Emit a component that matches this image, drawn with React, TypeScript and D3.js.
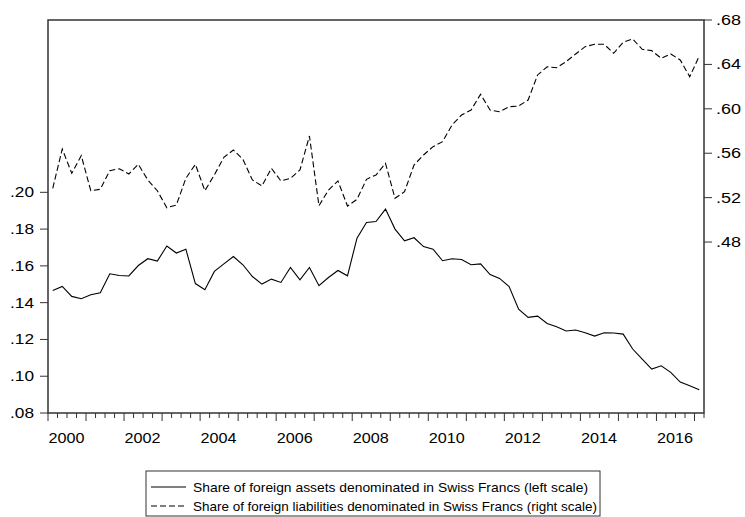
import React, { useEffect, useRef } from 'react'
import * as d3 from 'd3'

// quarterly observations, 2000Q1 .. 2017Q1
const assetsShare = [
  .1466, .1488, .1434, .1421, .1443, .1454, .1557, .1548, .1545, .1602,
  .1639, .1626, .1708, .1670, .1691, .1504, .1470, .1570, .1611, .1651,
  .1606, .1542, .1501, .1528, .1510, .1591, .1524, .1591, .1492, .1537,
  .1575, .1546, .1751, .1836, .1841, .1909, .1800, .1736, .1753, .1705,
  .1691, .1628, .1639, .1635, .1606, .1611, .1553, .1532, .1488, .1365,
  .1320, .1327, .1287, .1269, .1246, .1251, .1236, .1218, .1236, .1235,
  .1229, .1148, .1093, .1039, .1057, .1021, .0968, .0948, .0927
]
const liabilitiesShare = [
  .5284, .5638, .5419, .5578, .5262, .5275, .5443, .5460, .5413, .5500,
  .5359, .5262, .5109, .5133, .5374, .5500, .5262, .5406, .5563, .5629,
  .5545, .5359, .5305, .5464, .5350, .5374, .5449, .5755, .5127, .5268,
  .5350, .5124, .5185, .5365, .5404, .5509, .5194, .5253, .5494, .5584,
  .5659, .5704, .5854, .5944, .5989, .6131, .5989, .5974, .6019, .6025,
  .6079, .6305, .6379, .6370, .6425, .6494, .6560, .6581, .6581, .6500,
  .6599, .6629, .6536, .6524, .6455, .6494, .6440, .6289, .6476
]
const yearLabels = ['2000', '2002', '2004', '2006', '2008', '2010', '2012', '2014', '2016']
const leftTicks = [.08, .10, .12, .14, .16, .18, .20]
const rightTicks = [.48, .52, .56, .60, .64, .68]
const legendLabels = [
  'Share of foreign assets denominated in Swiss Francs (left scale)',
  'Share of foreign liabilities denominated in Swiss Francs (right scale)'
]

export default function App() {
  const ref = useRef<SVGSVGElement>(null)

  useEffect(() => {
    const width = 745, height = 517
    const left = 48, right = 704, top = 20, bottom = 413
    const n = assetsShare.length
    const font = "'Liberation Sans', Arial, sans-serif"
    const fmt = (v: number) => d3.format('.2f')(v).replace(/^0/, '')

    const svg = d3.select(ref.current)
    svg.selectAll('*').remove()
    svg.attr('width', width).attr('height', height)

    const x = d3.scaleLinear().domain([-0.5, n - 0.5]).range([left, right])
    const yL = d3.scaleLinear().domain([.08, .2937]).range([bottom, top])
    const yR = d3.scaleLinear().domain([.326, .68]).range([bottom, top])

    // bottom ticks, one per quarter, longer at year start
    const tk = svg.append('g').attr('stroke', '#333').attr('stroke-width', 1)
    for (let i = 0; i <= n; i++) {
      const xx = x(i - 0.5)
      tk.append('line')
        .attr('x1', xx).attr('x2', xx)
        .attr('y1', bottom).attr('y2', bottom + (i % 4 === 0 ? 8 : 5))
    }
    leftTicks.forEach(v => {
      tk.append('line').attr('x1', left - 8).attr('x2', left).attr('y1', yL(v)).attr('y2', yL(v))
    })
    rightTicks.forEach(v => {
      tk.append('line').attr('x1', right).attr('x2', right + 8).attr('y1', yR(v)).attr('y2', yR(v))
    })

    // EViews text comes out a bit wide, so stretch glyphs to the widths seen
    const txt = svg.append('g').attr('font-family', font).attr('font-size', 14).attr('fill', '#000')
      .attr('lengthAdjust', 'spacingAndGlyphs')
    leftTicks.forEach(v => {
      txt.append('text').attr('x', 34).attr('y', yL(v)).attr('dy', '0.35em')
        .attr('text-anchor', 'end').attr('textLength', 24)
        .attr('lengthAdjust', 'spacingAndGlyphs').text(fmt(v))
    })
    rightTicks.forEach(v => {
      txt.append('text').attr('x', 716).attr('y', yR(v)).attr('dy', '0.35em')
        .attr('textLength', 25).attr('lengthAdjust', 'spacingAndGlyphs').text(fmt(v))
    })
    yearLabels.forEach((lab, k) => {
      txt.append('text').attr('x', x(k * 8 - 0.5) + 18.5).attr('y', 443)
        .attr('text-anchor', 'middle').attr('textLength', 36)
        .attr('lengthAdjust', 'spacingAndGlyphs').text(lab)
    })

    const line = (sc: d3.ScaleLinear<number, number>) =>
      d3.line<number>().x((_, i) => x(i)).y(d => sc(d))

    svg.append('path').datum(liabilitiesShare)
      .attr('fill', 'none').attr('stroke', '#000').attr('stroke-width', 1.1)
      .attr('stroke-dasharray', '6,3')
      .attr('d', line(yR))
    svg.append('path').datum(assetsShare)
      .attr('fill', 'none').attr('stroke', '#000').attr('stroke-width', 1.1)
      .attr('d', line(yL))

    // frame
    svg.append('rect')
      .attr('x', left).attr('y', top).attr('width', right - left).attr('height', bottom - top)
      .attr('fill', 'none').attr('stroke', '#333').attr('stroke-width', 1.5)

    // legend
    const lg = svg.append('g')
    lg.append('rect').attr('x', 146).attr('y', 471).attr('width', 454).attr('height', 45)
      .attr('fill', 'none').attr('stroke', '#333').attr('stroke-width', 1)
    const legendWidths = [395, 404]
    legendLabels.forEach((lab, k) => {
      const yy = 487 + k * 19
      lg.append('line').attr('x1', 151).attr('x2', 186).attr('y1', yy).attr('y2', yy)
        .attr('stroke', '#000').attr('stroke-width', 1.1)
        .attr('stroke-dasharray', k === 1 ? '6,3' : null)
      lg.append('text').attr('x', 193).attr('y', yy).attr('dy', '0.35em')
        .attr('font-family', font).attr('font-size', 13.5)
        .attr('textLength', legendWidths[k]).attr('lengthAdjust', 'spacingAndGlyphs')
        .text(lab)
    })
  }, [])

  return (
    <svg ref={ref} style={{ position: 'absolute', left: 0, top: 0 }}></svg>
  )
}
